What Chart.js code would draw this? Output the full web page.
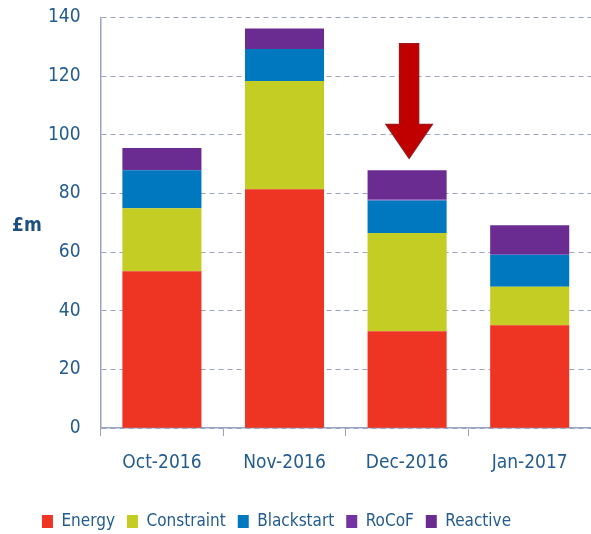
<!DOCTYPE html>
<html>
<head>
<meta charset="utf-8">
<script src="https://cdn.jsdelivr.net/npm/chart.js@4"></script>
<style>
    html, body { margin: 0; padding: 0; background: #fff; }
    #wrap { position: relative; width: 591px; height: 534px; }
</style>
</head>
<body>
<div id="wrap"><canvas id="chart"></canvas></div>
<script>
const months = ['Oct-2016', 'Nov-2016', 'Dec-2016', 'Jan-2017'];
const energy = [53.5, 81.4, 33.0, 35.1];
const constraint = [21.5, 36.9, 33.5, 13.1];
const blackstart = [12.9, 10.9, 11.1, 10.9];
const rocof = [0, 0, 0.3, 0.3];
const reactive = [7.6, 7.0, 10.0, 9.8];
const yTicks = [0, 20, 40, 60, 80, 100, 120, 140];

// arrow pointing at the December bar
const arrowMonth = 'Dec-2016';
const arrowTop = 131;
const arrowHeadStart = 103.5;
const arrowTip = 92;

const FONT = "'DejaVu Sans Condensed', 'Liberation Sans', sans-serif";
const TEXT_BLUE = '#245c8e';
const GRID = '#9aa3bf';

const unitLabel = {
    id: 'unitLabel',
    afterDraw(chart) {
        const ctx = chart.ctx;
        const y = chart.scales.y;
        ctx.save();
        ctx.font = 'bold 19px ' + FONT;
        ctx.fillStyle = '#1d4f7f';
        ctx.textAlign = 'left';
        ctx.textBaseline = 'middle';
        ctx.fillText('£m', 12, y.getPixelForValue(69));
        ctx.restore();
    }
};

// nudge the legend to where it sits in the original
const legendNudge = {
    id: 'legendNudge',
    afterLayout(chart) {
        const lg = chart.legend;
        lg.left -= 40; lg.right -= 40;
        lg.top += 12; lg.bottom += 12;
    }
};

const downArrow = {
    id: 'downArrow',
    afterDatasetsDraw(chart) {
        const ctx = chart.ctx;
        const x = chart.scales.x.getPixelForValue(months.indexOf(arrowMonth)) + 2;
        const y = chart.scales.y;
        const top = y.getPixelForValue(arrowTop);
        const mid = y.getPixelForValue(arrowHeadStart);
        const tip = y.getPixelForValue(arrowTip);
        const shaft = 9.5, head = 23;
        ctx.save();
        ctx.beginPath();
        ctx.moveTo(x - shaft, top);
        ctx.lineTo(x + shaft, top);
        ctx.lineTo(x + shaft, mid);
        ctx.lineTo(x + head, mid);
        ctx.lineTo(x, tip);
        ctx.lineTo(x - head, mid);
        ctx.lineTo(x - shaft, mid);
        ctx.closePath();
        ctx.fillStyle = '#c00000';
        ctx.fill();
        ctx.lineWidth = 1.5;
        ctx.strokeStyle = '#a31515';
        ctx.stroke();
        ctx.restore();
    }
};

const series = [
    { label: 'Energy', data: energy, color: '#ee3524' },
    { label: 'Constraint', data: constraint, color: '#c3cd23' },
    { label: 'Blackstart', data: blackstart, color: '#0078bf' },
    { label: 'RoCoF', data: rocof, color: '#7433a3' },
    { label: 'Reactive', data: reactive, color: '#6a2c91' }
];

new Chart(document.getElementById('chart'), {
    type: 'bar',
    data: {
        labels: months,
        datasets: series.map(s => ({
            label: s.label,
            data: s.data,
            backgroundColor: s.color,
            borderWidth: 0,
            categoryPercentage: 1,
            barPercentage: 0.645
        }))
    },
    options: {
        responsive: true,
        maintainAspectRatio: false,
        animation: false,
        layout: { padding: { left: 42, top: 0, right: 0, bottom: 6 } },
        plugins: {
            tooltip: { enabled: false },
            legend: {
                position: 'bottom',
                labels: {
                    color: TEXT_BLUE,
                    font: { family: FONT, size: 17 },
                    boxWidth: 11,
                    boxHeight: 13,
                    padding: 12
                }
            }
        },
        scales: {
            x: {
                stacked: true,
                grid: {
                    offset: true,
                    drawOnChartArea: false,
                    color: GRID,
                    tickLength: 8
                },
                border: { color: GRID, width: 1.5 },
                ticks: {
                    color: TEXT_BLUE,
                    font: { family: FONT, size: 19 },
                    padding: 15
                }
            },
            y: {
                stacked: true,
                min: 0,
                max: 140,
                afterBuildTicks(axis) {
                    axis.ticks = yTicks.map(v => ({ value: v }));
                },
                grid: {
                    color: GRID,
                    drawTicks: true,
                    tickLength: 14,
                    tickColor: 'transparent',
                    lineWidth: 1
                },
                border: { color: GRID, width: 1.5, dash: [5, 4] },
                ticks: {
                    color: TEXT_BLUE,
                    font: { family: FONT, size: 19 },
                    padding: 6
                }
            }
        }
    },
    plugins: [unitLabel, legendNudge, downArrow]
});
</script>
</body>
</html>
